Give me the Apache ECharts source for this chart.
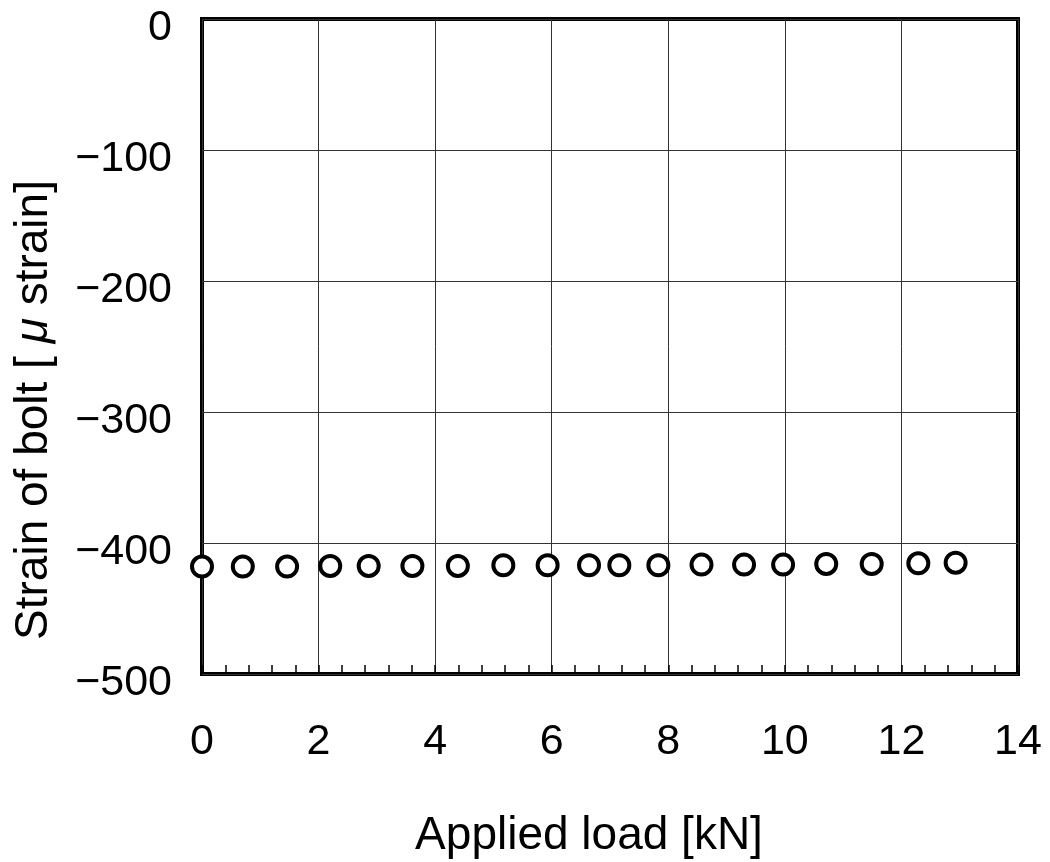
<!DOCTYPE html>
<html>
<head>
<meta charset="utf-8">
<script src="https://cdn.jsdelivr.net/npm/echarts@6/dist/echarts.min.js"></script>
<style>
  html, body { margin: 0; padding: 0; background: #fff; }
  #chart { width: 1050px; height: 862px; }
</style>
</head>
<body>
<div id="chart"></div>
<script>
// applied load [kN]
const loadKN = [0, 0.70, 1.46, 2.20, 2.86, 3.61, 4.39, 5.17, 5.93, 6.64, 7.16, 7.83, 8.57, 9.30, 9.97, 10.71, 11.49, 12.29, 12.93];
// bolt strain [micro strain]
const boltStrain = [-418, -418, -418, -417.5, -417.5, -417.5, -417.5, -417, -417, -417, -417, -417, -416.5, -416.5, -416.5, -416, -416, -415.5, -415];

const xTitle = 'Applied load [kN]';
const yTitle = '{n|Strain of bolt [ }{m|\u03bc}{n| strain]}';

let chart = echarts.init(document.getElementById('chart'), null, {renderer: 'canvas'});

let pts = loadKN.map((x, i) => [x, boltStrain[i]]);
let font = '"Liberation Sans", Arial, sans-serif';

chart.setOption({
    animation: false,
    backgroundColor: '#fff',
    grid: {
        left: 202, top: 19, right: 32, bottom: 188,
        outerBoundsMode: 'none',
        containLabel: false,
        show: true,
        borderColor: '#000',
        borderWidth: 4
    },
    graphic: [
        {
            type: 'text',
            x: 589, y: 836,
            style: {text: xTitle, font: '46px ' + font, fill: '#000', textAlign: 'center', textVerticalAlign: 'middle'}
        },
        {
            type: 'text',
            x: 34, y: 410,
            rotation: Math.PI / 2,
            style: {
                text: yTitle, fill: '#000', textAlign: 'center', textVerticalAlign: 'middle',
                rich: {
                    n: {fontSize: 46, fontFamily: font, fill: '#000'},
                    m: {fontSize: 46, fontFamily: font, fontStyle: 'italic', fill: '#000'}
                }
            }
        }
    ],
    xAxis: {
        type: 'value',
        min: 0, max: 14, interval: 2,
        axisLine: {show: false, onZero: false},
        axisTick: {show: true, inside: true, length: 9, lineStyle: {color: '#000', width: 1.5}},
        minorTick: {show: true, splitNumber: 5, length: 9, lineStyle: {color: '#000', width: 1.5}},
        axisLabel: {fontSize: 43, color: '#000', fontFamily: font, margin: 47},
        splitLine: {show: true, lineStyle: {color: '#333', width: 1}}
    },
    yAxis: {
        type: 'value',
        min: -500, max: 0, interval: 100,
        axisLine: {show: false, onZero: false},
        axisTick: {show: false},
        axisLabel: {
            color: '#000', margin: 30,
            formatter: v => '{t|' + String(v).replace('-', '\u2212') + '}',
            rich: {
                t: {fontSize: 43, color: '#000', fontFamily: font, padding: [18, 0, 0, 0]}
            }
        },
        splitLine: {show: true, lineStyle: {color: '#333', width: 1}}
    },
    series: [{
        type: 'scatter',
        data: pts,
        symbol: 'circle',
        symbolSize: 20,
        clip: false,
        itemStyle: {color: '#fff', borderColor: '#000', borderWidth: 4, opacity: 1}
    }]
});
</script>
</body>
</html>
